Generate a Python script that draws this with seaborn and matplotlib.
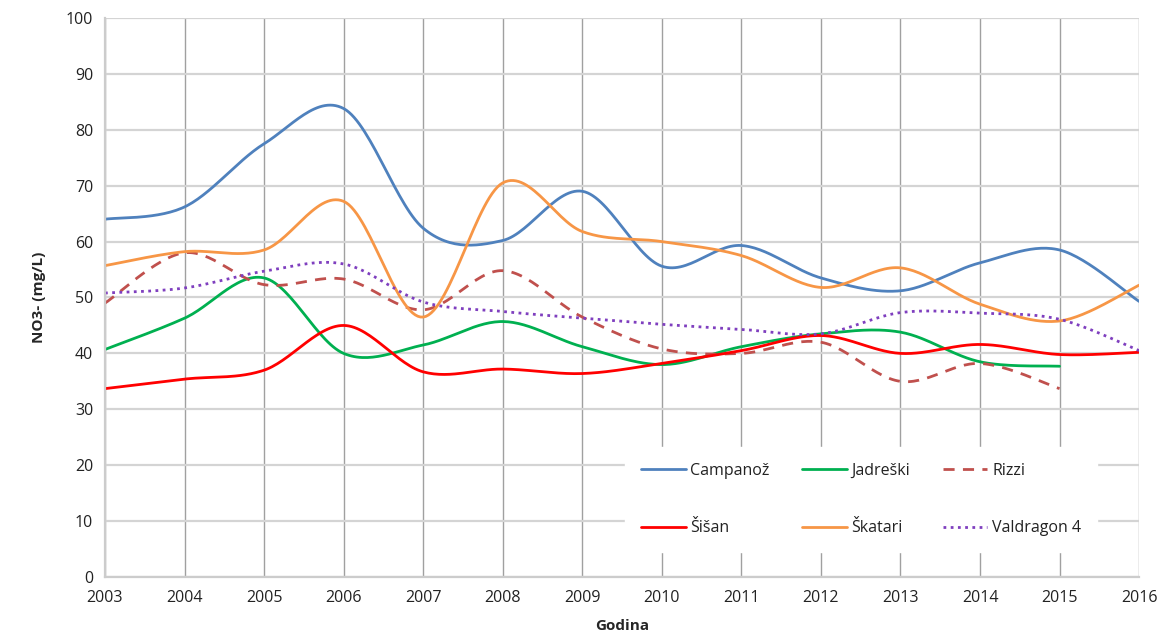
import numpy as np
import pandas as pd
import matplotlib
matplotlib.use("Agg")
import matplotlib.pyplot as plt
import seaborn as sns

years = list(range(2003, 2017))

campanoz = [64.0, 66.2, 77.5, 83.8, 62.4, 60.2, 69.0, 55.6, 59.3, 53.5, 51.2, 56.2, 58.5, 49.3]
jadreski = [40.7, 46.3, 53.5, 40.0, 41.5, 45.7, 41.2, 38.0, 41.2, 43.5, 43.8, 38.5, 37.7]
rizzi = [49.0, 58.0, 52.3, 53.3, 47.8, 54.8, 46.5, 40.8, 40.0, 42.0, 35.0, 38.2, 33.7]
sisan = [33.7, 35.4, 37.0, 45.0, 36.7, 37.2, 36.4, 38.2, 40.5, 43.2, 40.0, 41.6, 39.8, 40.2]
skatari = [55.7, 58.2, 58.5, 67.2, 46.5, 70.5, 61.8, 60.0, 57.5, 51.8, 55.3, 48.8, 45.8, 52.2]
valdragon = [50.8, 51.7, 54.7, 56.0, 49.2, 47.5, 46.3, 45.2, 44.3, 43.5, 47.3, 47.2, 46.1, 40.5]

series = [
    ("Campanož", campanoz, "#4F81BD", "-"),
    ("Jadreški", jadreski, "#00B050", "-"),
    ("Rizzi", rizzi, "#C0504D", (0, (4, 3))),
    ("Šišan", sisan, "#FF0000", "-"),
    ("Škatari", skatari, "#F79646", "-"),
    ("Valdragon 4", valdragon, "#7F3FBF", (0, (1, 1.6))),
]


def smooth(x, y, n=30):
    # Excel-style smoothed line (Bezier with control points at 1/6 of neighbours)
    x = np.asarray(x, float)
    y = np.asarray(y, float)
    px = np.concatenate([[x[0]], x, [x[-1]]])
    py = np.concatenate([[y[0]], y, [y[-1]]])
    xs, ys = [], []
    t = np.linspace(0, 1, n, endpoint=False)
    for i in range(1, len(px) - 2):
        p0 = np.array([px[i], py[i]])
        p3 = np.array([px[i + 1], py[i + 1]])
        c1 = p0 + (np.array([px[i + 1], py[i + 1]]) - np.array([px[i - 1], py[i - 1]])) / 6
        c2 = p3 - (np.array([px[i + 2], py[i + 2]]) - np.array([px[i], py[i]])) / 6
        b = ((1 - t) ** 3)[:, None] * p0 + (3 * (1 - t) ** 2 * t)[:, None] * c1 \
            + (3 * (1 - t) * t ** 2)[:, None] * c2 + (t ** 3)[:, None] * p3
        xs.extend(b[:, 0])
        ys.extend(b[:, 1])
    xs.append(x[-1])
    ys.append(y[-1])
    return np.array(xs), np.array(ys)


sns.set_style("white")
plt.rcParams["font.family"] = ["Open Sans", "DejaVu Sans"]

fig = plt.figure(figsize=(11.6, 6.35), dpi=100)
ax = fig.add_axes([0.0905, 0.0913, 0.8915, 0.8804])

for name, vals, color, ls in series:
    sx, sy = smooth(years[:len(vals)], vals)
    df = pd.DataFrame({"x": sx, "y": sy})
    sns.lineplot(data=df, x="x", y="y", ax=ax, color=color, linestyle=ls,
                 lw=2.0, label=name, sort=False, estimator=None)

ax.set_xlim(2003, 2016)
ax.set_ylim(0, 100)
ax.set_xticks(years)
ax.set_yticks(range(0, 101, 10))
ax.yaxis.grid(True, color="#d4d4d4", lw=1.6)
ax.xaxis.grid(True, color="#a0a0a0", lw=1.0)
ax.set_axisbelow(True)
for s in ["top", "right"]:
    ax.spines[s].set_visible(False)
for s in ["left", "bottom"]:
    ax.spines[s].set_color("#cccccc")
    ax.spines[s].set_linewidth(1.6)
ax.tick_params(axis="both", length=5, color="#bbbbbb", labelsize=11.5,
               labelcolor="#222222", direction="out")
ax.tick_params(axis="x", pad=4)
ax.set_xlabel("Godina", fontweight="bold", fontsize=11, labelpad=10)
ax.set_ylabel("NO3- (mg/L)", fontweight="bold", fontsize=11, labelpad=14)

# legend filled row by row like the original (matplotlib fills column-wise)
handles, labels = ax.get_legend_handles_labels()
order = [0, 3, 1, 4, 2, 5]
leg = ax.legend([handles[i] for i in order], [labels[i] for i in order],
                ncol=3, loc="lower left", bbox_to_anchor=(0.495, 0.03, 0.472, 0.215),
                mode="expand", frameon=True, fancybox=False, fontsize=11.5,
                handlelength=2.8, handletextpad=0.3, labelspacing=2.6,
                borderpad=1.0, columnspacing=2.0)
leg.get_frame().set_facecolor("white")
leg.get_frame().set_edgecolor("white")
leg.get_frame().set_alpha(1.0)
for t in leg.get_texts():
    t.set_color("#222222")

fig.savefig("out.png", dpi=100)
